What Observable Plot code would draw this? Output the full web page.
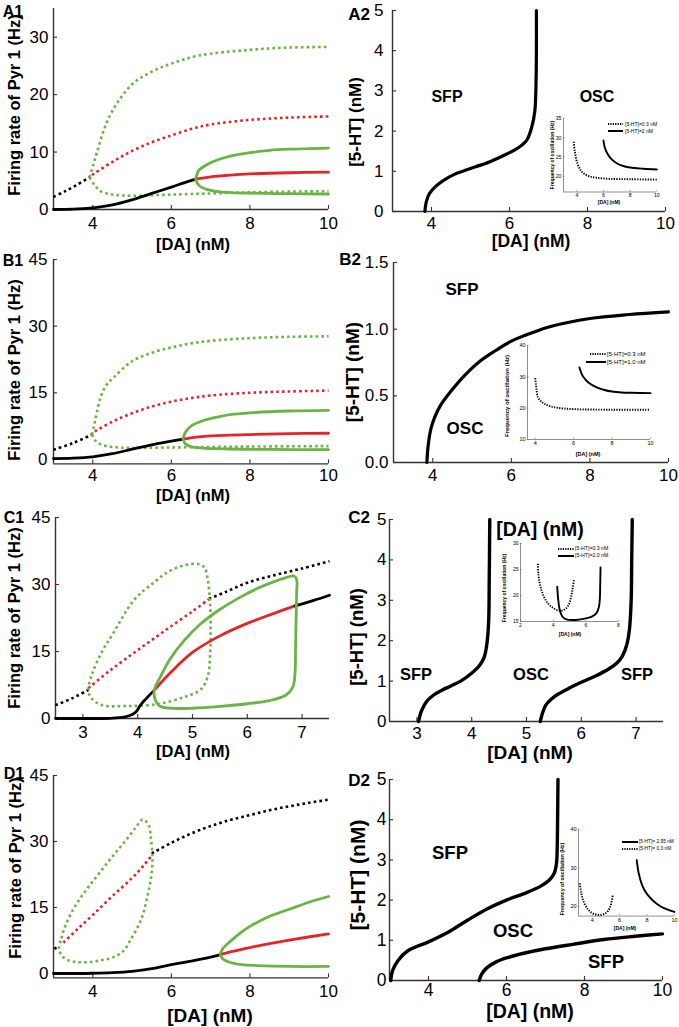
<!DOCTYPE html>
<html><head><meta charset="utf-8">
<script src="https://cdn.jsdelivr.net/npm/d3@7"></script>
<script src="https://cdn.jsdelivr.net/npm/@observablehq/plot@0.6"></script>
<style>
body{margin:0;background:#fff;}
#fig{position:relative;width:679px;height:1027px;overflow:hidden;background:#fff;font-family:"Liberation Sans",Arial,Helvetica,sans-serif;}
.t{position:absolute;white-space:nowrap;font-weight:bold;color:#000;line-height:1;}
</style></head><body><div id="fig"></div>
<script>
// ---------------- DATA ----------------
// A1
const A1_blackDot = [[3,2.2],[3.3,3.2],[3.6,4.3],[3.92,5.6]];
const A1_greenDotUp = [[3.92,5.6],[4.02,8],[4.1,9.8],[4.27,13.6],[4.5,17.2],[5,21.8],[5.5,24],[6,25.4],[6.7,26.8],[8,27.8],[9,28.2],[10,28.3]];
const A1_redDot = [[3.98,6.0],[4.5,8.3],[5,10.2],[5.5,11.7],[6,12.9],[6.5,14],[7,14.8],[8,15.6],[9,16],[10,16.2]];
const A1_greenDotLow = [[3.92,5.6],[4.05,4.2],[4.2,3.2],[4.5,2.6],[5,2.4],[6,2.6],[7,2.8],[8,3],[10,3.2]];
const A1_black = [[3,0],[3.5,0.05],[4,0.3],[4.5,0.8],[5,1.7],[5.5,2.8],[6,3.9],[6.3,4.6],[6.62,5.3]];
const A1_greenUp = [[6.62,5.3],[6.7,6.8],[6.9,7.8],[7.2,8.7],[7.5,9.3],[8,9.9],[8.5,10.3],[9,10.5],[10,10.7]];
const A1_red = [[6.62,5.3],[7,5.7],[7.5,6],[8,6.2],[9,6.4],[10,6.5]];
const A1_greenLow = [[6.62,5.3],[6.7,4.2],[6.9,3.5],[7.2,3.1],[7.5,2.95],[8,2.85],[9,2.75],[10,2.7]];
const A1_xTicks = [4,6,8,10], A1_yTicks = [0,10,20,30];
// A2
const A2_curve = [[3.83,0],[3.87,0.25],[3.95,0.45],[4.1,0.62],[4.3,0.77],[4.6,0.93],[5,1.07],[5.5,1.24],[5.93,1.43],[6.2,1.57],[6.44,1.77],[6.57,2.1],[6.65,2.5],[6.68,3.2],[6.69,4],[6.69,5]];
const A2_xTicks = [4,6,8,10], A2_yTicks = [0,1,2,3,4,5];
const A2in_dot = [[3.77,29],[3.85,26.5],[4.05,23.3],[4.3,21.6],[4.55,20.7],[5,20],[5.55,19.65],[6.5,19.4],[8,19.3],[10,19.2]];
const A2in_solid = [[6,29.3],[6.1,27.5],[6.3,25.9],[6.6,24.5],[7.05,23.3],[7.6,22.6],[8.3,22.2],[9,22],[10,21.8]];
const A2in_xTicks = [4,6,8,10], A2in_yTicks = [20,25,30,35];
const A2in_legend = ["[5-HT]=0.3 nM", "[5-HT]=2  nM"];
// B1
const B1_blackDot = [[3,2.2],[3.5,3.7],[3.98,5.6]];
const B1_greenDotUp = [[3.98,5.6],[4.03,7.5],[4.08,9.6],[4.2,14],[4.35,16.8],[4.55,18.6],[5,22.1],[5.5,24],[6,25.2],[6.5,26.1],[7,26.7],[8,27.3],[9,27.6],[10,27.7]];
const B1_redDot = [[4.05,6.3],[4.5,8.5],[5,10.4],[5.5,11.9],[6,13],[6.5,13.8],[7,14.4],[8,15],[9,15.3],[10,15.5]];
const B1_greenDotLow = [[3.98,5.6],[4.05,4.4],[4.2,3.4],[4.5,2.8],[5,2.6],[6,2.7],[7,2.8],[8,2.9],[10,3]];
const B1_black = [[3,0.2],[3.5,0.3],[4,0.6],[4.5,1.3],[5,2.3],[5.5,3.3],[6,4.1],[6.3,4.6]];
const B1_greenUp = [[6.3,4.6],[6.35,6],[6.5,7.5],[6.8,8.7],[7.2,9.6],[7.5,10.1],[8,10.5],[9,10.9],[10,11.05]];
const B1_red = [[6.3,4.6],[6.7,5.1],[7,5.3],[8,5.6],[9,5.8],[10,5.9]];
const B1_greenLow = [[6.3,4.6],[6.35,3.6],[6.5,2.9],[6.8,2.55],[7.5,2.35],[8.5,2.25],[10,2.2]];
const B1_xTicks = [4,6,8,10], B1_yTicks = [0,15,30,45];
// B2
const B2_curve = [[3.85,0],[3.88,0.12],[3.95,0.25],[4.05,0.34],[4.2,0.43],[4.45,0.53],[4.8,0.65],[5.2,0.76],[5.6,0.84],[6,0.91],[6.5,0.97],[7,1.02],[8,1.08],[9,1.11],[10,1.13]];
const B2_xTicks = [4,6,8,10], B2_yTicks = [0,0.5,1,1.5];
const B2in_dot = [[4,29.6],[4.05,27],[4.14,23.5],[4.3,22.2],[4.48,21.4],[4.8,20.6],[5.17,20.1],[6,19.7],[8,19.5],[10,19.5]];
const B2in_solid = [[6.3,33],[6.5,30],[6.8,28],[7.2,26.6],[7.6,25.8],[8,25.3],[8.5,25],[9,24.9],[10,24.8]];
const B2in_xTicks = [4,6,8,10], B2in_yTicks = [10,20,30,40];
const B2in_legend = ["[5-HT]=0.3 nM", "[5-HT]=1.0 nM"];
// C1
const C1_blackDot1 = [[2.5,3],[2.8,4.5],[3.1,6.4]];
const C1_blackDot2 = [[5.3,26.8],[5.6,28.3],[6,30.4],[6.5,32.1],[7,33.6],[7.5,35.2]];
const C1_redDot = [[3.1,6.8],[3.5,10.8],[4,15.3],[4.5,19.7],[5,24],[5.3,26.7]];
const C1_greenDotLoop = [[3.1,6.4],[3.17,10],[3.35,15],[3.55,19],[3.93,26.5],[4.3,30.5],[4.55,32.8],[4.85,34.3],[5.1,34.6],[5.22,33.8],[5.28,31],[5.32,26],[5.33,20],[5.32,14],[5.28,9.5],[5.15,6.5],[4.85,4.8],[4.35,3.2],[3.8,2.8],[3.35,3.0],[3.15,4.6]];
const C1_black = [[2.5,0],[3,0],[3.5,0.05],[3.75,0.3],[3.9,0.9],[3.97,1.5],[4.05,3],[4.15,4.4],[4.3,6.3]];
const C1_red = [[4.3,6.3],[4.6,10.3],[5,14.8],[5.5,18.5],[6,21.3],[6.5,23.6],[6.87,25.2]];
const C1_black2 = [[6.87,25.2],[7.2,26.4],[7.5,27.6]];
const C1_greenLoop = [[4.3,6.3],[4.42,9.5],[4.6,13.5],[4.85,17.5],[5.15,21.2],[5.5,24.4],[5.85,27],[6.2,29.2],[6.5,30.7],[6.72,31.6],[6.85,31.9],[6.9,31.2],[6.9,28],[6.89,22],[6.88,15],[6.87,10],[6.83,7],[6.7,5.2],[6.4,4],[6,3.3],[5.5,2.7],[5,2.3],[4.6,2.3],[4.4,2.8],[4.32,4.2]];
const C1_xTicks = [3,4,5,6,7], C1_yTicks = [0,15,30,45];
// C2
const C2_left = [[3.03,0],[3.08,0.25],[3.18,0.5],[3.3,0.65],[3.45,0.77],[3.62,0.88],[3.8,1],[4.02,1.22],[4.15,1.4],[4.23,1.6],[4.28,1.95],[4.31,2.5],[4.32,3.5],[4.33,5]];
const C2_right = [[5.25,0],[5.29,0.2],[5.35,0.4],[5.45,0.55],[5.58,0.68],[5.8,0.84],[6,0.97],[6.25,1.12],[6.5,1.3],[6.65,1.45],[6.75,1.62],[6.83,1.9],[6.88,2.3],[6.91,3],[6.92,4],[6.93,5]];
const C2_xTicks = [3,4,5,6,7], C2_yTicks = [0,1,2,3,4,5];
const C2in_dot = [[3.06,26.1],[3.1,24],[3.2,22],[3.4,20],[3.65,18.6],[4,17.6],[4.35,17.1],[4.7,17.3],[4.95,18.2],[5.1,19.8],[5.2,21.5],[5.28,23.2]];
const C2in_solid = [[4.25,21.7],[4.3,19.5],[4.4,17.3],[4.55,16],[4.8,15.4],[5.4,15.3],[6,15.6],[6.4,16],[6.65,16.6],[6.8,17.8],[6.86,19.5],[6.88,22],[6.9,25.4]];
const C2in_xTicks = [2,4,6,8], C2in_yTicks = [15,20,25,30];
const C2in_legend = ["[5-HT]=0.3 nM", "[5-HT]=2.0 nM"];
// D1
const D1_blackDot1 = [[3.02,5.6],[3.12,6.1]];
const D1_blackDot2 = [[5.5,27.3],[6,29.7],[6.5,31.8],[7,33.5],[7.5,34.9],[8,36],[8.5,37.1],[9,38],[9.5,38.8],[10,39.5]];
const D1_redDot = [[3.25,7],[3.6,10],[4,13.3],[4.5,17.6],[5,21.7],[5.3,24.6],[5.5,26.8]];
const D1_greenDotLoop = [[3.14,5.8],[3.2,8],[3.3,10.8],[3.45,13.7],[3.65,16.7],[3.9,19.8],[4.2,23.2],[4.5,26.6],[4.8,29.8],[5.08,33],[5.27,35],[5.42,33.8],[5.48,30.8],[5.52,25.5],[5.47,21],[5.4,18],[5.28,13.5],[5.14,10.5],[4.95,7.5],[4.8,5.3],[4.5,3.6],[4.2,3],[3.9,2.6],[3.6,2.6],[3.35,3.1],[3.2,4.2]];
const D1_black = [[3,0],[3.5,0],[4,0.05],[4.5,0.2],[5,0.5],[5.5,1.1],[6,2],[6.5,2.8],[7,3.7],[7.25,4.3]];
const D1_greenUp = [[7.25,4.3],[7.3,5.5],[7.5,7.3],[7.8,9.5],[8,10.7],[8.5,13],[9,14.6],[9.5,16.2],[10,17.5]];
const D1_red = [[7.25,4.3],[7.5,4.9],[8,5.9],[8.5,6.8],[9,7.6],[10,9]];
const D1_greenLow = [[7.25,4.3],[7.3,3.4],[7.5,2.5],[7.8,2],[8.2,1.8],[9,1.6],[10,1.6]];
const D1_xTicks = [4,6,8,10], D1_yTicks = [0,15,30,45];
// D2
const D2_upper = [[3.03,0],[3.08,0.25],[3.22,0.5],[3.47,0.74],[4,0.96],[4.5,1.2],[5,1.5],[5.5,1.78],[6,2.0],[6.5,2.18],[6.9,2.36],[7.1,2.5],[7.22,2.66],[7.28,2.9],[7.3,3.3],[7.31,4],[7.32,5]];
const D2_lower = [[5.3,0],[5.36,0.15],[5.5,0.32],[5.75,0.47],[6.03,0.57],[6.5,0.69],[7,0.79],[7.7,0.9],[8.5,1.02],[9.3,1.1],[10,1.16]];
const D2_xTicks = [4,6,8,10], D2_yTicks = [0,1,2,3,4,5];
const D2in_dot = [[3.1,26],[3.2,23.5],[3.4,21],[3.7,19.2],[4,18.3],[4.5,17.8],[5,18.3],[5.3,19.8],[5.5,23]];
const D2in_solid = [[7.25,32],[7.4,28.5],[7.7,25],[8,23.2],[8.5,21.3],[9,20],[9.5,19.2],[10,18.6]];
const D2in_xTicks = [4,6,8,10], D2in_yTicks = [20,30,40];
const D2in_legend = ["[5-HT]= 2.95 nM", "[5-HT]= 0.3 nM"];

// ---------------- DRAWING ----------------
const GREEN = "#6ab443", RED = "#e5242a", BLACK = "#000";
const FONT = '"Liberation Sans", Arial, Helvetica, sans-serif';
const fig = document.getElementById("fig");

function txt(s, cx, cy, size, opt = {}) {
  const d = document.createElement("div");
  d.className = "t";
  d.textContent = s;
  d.style.left = cx + "px"; d.style.top = cy + "px"; d.style.fontSize = size + "px";
  if (opt.normal) d.style.fontWeight = "normal";
  d.style.transform = opt.leftAlign ? "translate(0,-50%)" : "translate(-50%,-50%)" + (opt.rot ? " rotate(-90deg)" : "");
  fig.appendChild(d);
}

function swatch(x1, x2, y, dashed, w) {
  const ns = "http://www.w3.org/2000/svg";
  const s = document.createElementNS(ns, "svg");
  s.setAttribute("width", x2 - x1); s.setAttribute("height", 6);
  s.style.position = "absolute"; s.style.left = x1 + "px"; s.style.top = (y - 3) + "px";
  const l = document.createElementNS(ns, "line");
  l.setAttribute("x1", 0); l.setAttribute("x2", x2 - x1); l.setAttribute("y1", 3); l.setAttribute("y2", 3);
  l.setAttribute("stroke", "#000"); l.setAttribute("stroke-width", w);
  if (dashed) l.setAttribute("stroke-dasharray", "1.2 1.2");
  s.appendChild(l);
  fig.appendChild(s);
}

function chart(cfg) {
  const {x0, x1, yb, yt} = cfg.px;
  const pad = cfg.pad || [10, 15, 32, 50];
  const W = x1 - x0 + pad[1] + pad[3], H = yb - yt + pad[0] + pad[2];
  const [xa, xb] = cfg.xDomain, [ya, yc] = cfg.yDomain;
  const tl = cfg.tickLen ?? 4;
  const fy = tl / (yb - yt) * (yc - ya), fx = tl / (x1 - x0) * (xb - xa);
  const ac = cfg.axisColor || "#333", aw = cfg.axisWidth || 1.4;
  const marks = [
    Plot.ruleY([ya], {stroke: ac, strokeWidth: aw}),
    Plot.ruleX([xa], {stroke: ac, strokeWidth: aw}),
    Plot.ruleX(cfg.xTicks, {y1: ya, y2: ya + fy, stroke: ac, strokeWidth: aw * 0.8}),
    Plot.ruleY(cfg.yTicks, {x1: xa, x2: xa + fx, stroke: ac, strokeWidth: aw * 0.8}),
    Plot.axisX({ticks: cfg.xTicks, tickSize: 0, tickPadding: cfg.xPad ?? 7, fontSize: cfg.font, label: null, tickFormat: cfg.xFmt || (d => String(d))}),
    Plot.axisY({ticks: cfg.yTicks, tickSize: 0, tickPadding: cfg.yPad ?? 5, fontSize: cfg.font, label: null, tickFormat: cfg.yFmt || (d => String(d))})
  ];
  for (const s of cfg.lines) {
    marks.push(Plot.line(s.d, {
      x: d => d[0], y: d => d[1], stroke: s.c, strokeWidth: s.w,
      strokeDasharray: s.dash || null, strokeLinecap: s.dash ? "butt" : "round", strokeLinejoin: "round",
      curve: s.closed ? "catmull-rom-closed" : "catmull-rom"
    }));
  }
  const svg = Plot.plot({
    width: W, height: H,
    marginTop: pad[0], marginRight: pad[1], marginBottom: pad[2], marginLeft: pad[3],
    x: {domain: cfg.xDomain}, y: {domain: cfg.yDomain},
    style: {background: "transparent", fontFamily: FONT, fontSize: cfg.font + "px", color: "#000", overflow: "visible"},
    marks
  });
  svg.style.position = "absolute";
  svg.style.left = (x0 - pad[3]) + "px";
  svg.style.top = (yt - pad[0]) + "px";
  svg.style.maxWidth = "none";
  svg.style.width = W + "px";
  svg.style.height = H + "px";
  fig.appendChild(svg);
}

const DOT = "2.6 3.1", SW = 2.8, DW = 2.6;
const dotted = (d, c, closed) => ({d, c, w: DW, dash: DOT, closed});
const solid = (d, c, closed) => ({d, c, w: SW, closed});
const inDot = d => ({d, c: BLACK, w: 1.9, dash: "1.3 1.3"});
const inSolid = d => ({d, c: BLACK, w: 1.9});
const inPad = [3, 4, 10, 14];

// A1
chart({px: {x0: 53, x1: 328, yb: 209, yt: 8}, xDomain: [3, 10], yDomain: [0, 35], xTicks: A1_xTicks, yTicks: A1_yTicks, font: 17, xPad: 7, yPad: 5,
  lines: [dotted(A1_blackDot, BLACK), dotted(A1_greenDotUp, GREEN), dotted(A1_redDot, RED), dotted(A1_greenDotLow, GREEN),
    solid(A1_black, BLACK), solid(A1_greenUp, GREEN), solid(A1_red, RED), solid(A1_greenLow, GREEN)]});
// A2
chart({px: {x0: 392, x1: 665, yb: 211, yt: 10}, xDomain: [3, 10], yDomain: [0, 5], xTicks: A2_xTicks, yTicks: A2_yTicks, font: 17, xPad: 5, yPad: 9,
  lines: [{d: A2_curve, c: BLACK, w: 3.2}]});
chart({px: {x0: 562.7, x1: 656, yb: 191.5, yt: 118}, xDomain: [3, 10], yDomain: [16, 35], xTicks: A2in_xTicks, yTicks: A2in_yTicks, font: 5.2, xPad: 1.5, yPad: 2, tickLen: 1.5, axisWidth: 0.6, axisColor: "#444", pad: inPad,
  lines: [inDot(A2in_dot), inSolid(A2in_solid)]});
// B1
chart({px: {x0: 53, x1: 328, yb: 463.4, yt: 259}, xDomain: [3, 10], yDomain: [-1, 45], xTicks: B1_xTicks, yTicks: B1_yTicks, font: 17, xPad: 5, yPad: 6,
  lines: [dotted(B1_blackDot, BLACK), dotted(B1_greenDotUp, GREEN), dotted(B1_redDot, RED), dotted(B1_greenDotLow, GREEN),
    solid(B1_black, BLACK), solid(B1_greenUp, GREEN), solid(B1_red, RED), solid(B1_greenLow, GREEN)]});
// B2
chart({px: {x0: 393, x1: 668, yb: 462, yt: 262}, xDomain: [3, 10], yDomain: [0, 1.5], xTicks: B2_xTicks, yTicks: B2_yTicks, font: 17, xPad: 6, yPad: 5, yFmt: d3.format(".1f"),
  lines: [{d: B2_curve, c: BLACK, w: 3.2}]});
chart({px: {x0: 527, x1: 650, yb: 439, yt: 345}, xDomain: [3.6, 10], yDomain: [10, 40], xTicks: B2in_xTicks, yTicks: B2in_yTicks, font: 5.5, xPad: 2, yPad: 2, tickLen: 1.5, axisWidth: 0.6, axisColor: "#444", pad: inPad,
  lines: [inDot(B2in_dot), inSolid(B2in_solid)]});
// C1
chart({px: {x0: 55, x1: 329, yb: 718, yt: 517}, xDomain: [2.5, 7.5], yDomain: [0, 45], xTicks: C1_xTicks, yTicks: C1_yTicks, font: 17, xPad: 7, yPad: 5,
  lines: [dotted(C1_blackDot1, BLACK), dotted(C1_blackDot2, BLACK), dotted(C1_redDot, RED), dotted(C1_greenDotLoop, GREEN, true),
    solid(C1_black, BLACK), solid(C1_red, RED), solid(C1_black2, BLACK), solid(C1_greenLoop, GREEN, true)]});
// C2
chart({px: {x0: 389, x1: 663, yb: 721, yt: 519}, xDomain: [2.5, 7.5], yDomain: [0, 5], xTicks: C2_xTicks, yTicks: C2_yTicks, font: 17, xPad: 5, yPad: 3,
  lines: [{d: C2_left, c: BLACK, w: 3.4}, {d: C2_right, c: BLACK, w: 3.4}]});
chart({px: {x0: 520, x1: 618, yb: 621, yt: 543}, xDomain: [2, 8], yDomain: [15, 30], xTicks: C2in_xTicks, yTicks: C2in_yTicks, font: 5, xPad: 2, yPad: 2, tickLen: 1.5, axisWidth: 0.6, axisColor: "#444", pad: inPad,
  lines: [inDot(C2in_dot), inSolid(C2in_solid)]});
// D1
chart({px: {x0: 53, x1: 328, yb: 977.4, yt: 775}, xDomain: [3, 10], yDomain: [-1, 45], xTicks: D1_xTicks, yTicks: D1_yTicks, font: 17, xPad: 7, yPad: 5,
  lines: [dotted(D1_blackDot1, BLACK), dotted(D1_blackDot2, BLACK), dotted(D1_redDot, RED), dotted(D1_greenDotLoop, GREEN, true),
    solid(D1_black, BLACK), solid(D1_greenUp, GREEN), solid(D1_red, RED), solid(D1_greenLow, GREEN)]});
// D2
chart({px: {x0: 389, x1: 662, yb: 980, yt: 779}, xDomain: [3, 10], yDomain: [0, 5], xTicks: D2_xTicks, yTicks: D2_yTicks, font: 17.5, xPad: 3, yPad: 3,
  lines: [{d: D2_upper, c: BLACK, w: 3.4}, {d: D2_lower, c: BLACK, w: 3.4}]});
chart({px: {x0: 578.3, x1: 674.3, yb: 915.6, yt: 829}, xDomain: [3, 10], yDomain: [17.5, 40], xTicks: D2in_xTicks, yTicks: D2in_yTicks, font: 5.5, xPad: 2, yPad: 2, tickLen: 1.5, axisWidth: 0.6, axisColor: "#444", pad: inPad,
  lines: [inDot(D2in_dot), inSolid(D2in_solid)]});

// ---------------- TEXT ----------------
const yl1 = "Firing rate of Pyr 1 (Hz)", yl2 = "[5-HT] (nM)", xl = "[DA] (nM)", fq = "Frequency of oscillation (Hz)";
// panel letters
txt("A1", 13, 12, 16); txt("A2", 359, 14, 17);
txt("B1", 13, 261, 16); txt("B2", 350, 259, 17);
txt("C1", 14, 518, 16); txt("C2", 359, 517, 17);
txt("D1", 14, 774, 16); txt("D2", 359, 780, 17);
// axis titles
txt(xl, 193, 244, 16.5); txt(yl1, 14, 105, 16.5, {rot: true});
txt(xl, 531, 242, 17.5); txt(yl2, 355, 122, 17, {rot: true});
txt(xl, 193, 495, 16.5); txt(yl1, 14, 370, 16.5, {rot: true});
txt(xl, 540, 530, 19.5); txt(yl2, 352, 372, 19, {rot: true});
txt(xl, 193, 751, 16.5); txt(yl1, 14, 618, 16.5, {rot: true});
txt(xl, 530, 752, 19); txt(yl2, 357, 637, 18.5, {rot: true});
txt(xl, 210, 1015, 19); txt(yl1, 15, 868, 16.5, {rot: true});
txt(xl, 530, 1012, 19.5); txt(yl2, 357, 875, 21, {rot: true});
// region labels
txt("SFP", 447, 97, 16); txt("OSC", 597, 97, 16);
txt("SFP", 462, 289, 17); txt("OSC", 465, 428, 17);
txt("SFP", 416, 674, 16.5); txt("OSC", 531, 674, 16.5); txt("SFP", 637, 674, 16.5);
txt("SFP", 450, 853, 18.5); txt("OSC", 513, 931, 18.5); txt("SFP", 606, 962, 18.5);
// inset labels
txt(xl, 609, 202, 5); txt(fq, 552, 155, 5, {rot: true});
txt(xl, 588, 455, 5.5); txt(fq, 507, 396, 6, {rot: true});
txt(xl, 570, 634, 5); txt(fq, 504, 588, 5, {rot: true});
txt(xl, 625, 928, 5); txt(fq, 563, 879, 5.3, {rot: true});
// inset legends
swatch(608, 623, 124, true, 1.8); txt(A2in_legend[0], 625, 124, 5, {leftAlign: true, normal: true});
swatch(608, 623, 131, false, 2); txt(A2in_legend[1], 625, 131, 5, {leftAlign: true, normal: true});
swatch(590, 606, 354, true, 1.8); txt(B2in_legend[0], 607, 354, 6, {leftAlign: true, normal: true});
swatch(586, 606, 362, false, 2); txt(B2in_legend[1], 607, 362, 6, {leftAlign: true, normal: true});
swatch(558, 574, 549, true, 1.8); txt(C2in_legend[0], 575, 549, 5.2, {leftAlign: true, normal: true});
swatch(558, 574, 556, false, 2); txt(C2in_legend[1], 575, 556, 5.2, {leftAlign: true, normal: true});
swatch(622, 638, 842, false, 2); txt(D2in_legend[0], 639, 842, 4.8, {leftAlign: true, normal: true});
swatch(622, 638, 849, true, 1.8); txt(D2in_legend[1], 639, 849, 4.8, {leftAlign: true, normal: true});
</script></body></html>
